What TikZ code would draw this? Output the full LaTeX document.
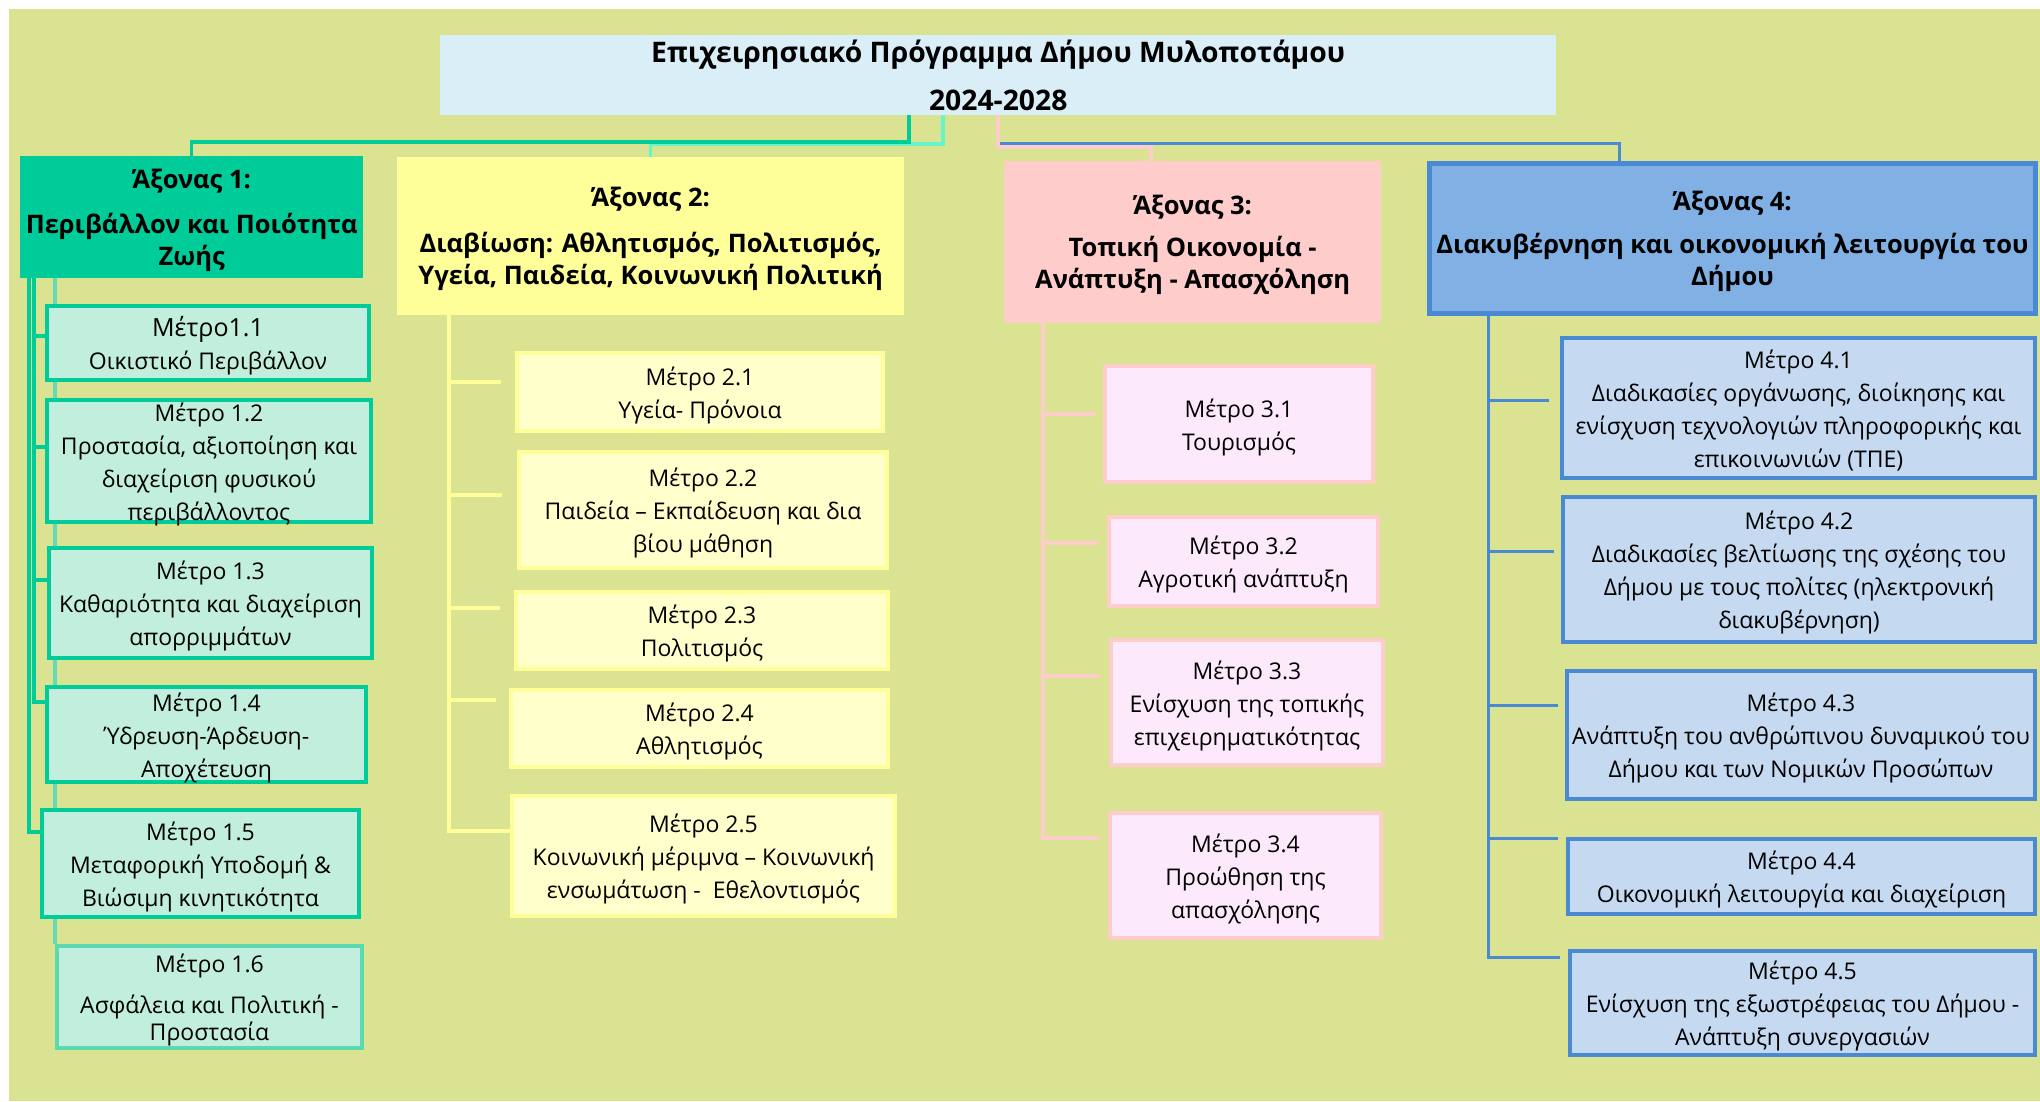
\documentclass[tikz,border=0pt]{standalone}
\usepackage{fontspec}
\setmainfont{Open Sans}
\pgfdeclarelayer{back}\pgfdeclarelayer{lines}
\pgfsetlayers{back,lines,main}
\definecolor{bgc}{HTML}{D9E392}
\definecolor{titleF}{HTML}{DAEEF8}
\definecolor{grnA}{HTML}{00CC99}
\definecolor{mintF}{HTML}{C1EEDD}
\definecolor{aquaT}{HTML}{66F5C8}
\definecolor{aquaL}{HTML}{66D9B8}
\definecolor{grnB}{HTML}{5CD9B0}
\definecolor{yelA}{HTML}{FFFF99}
\definecolor{yelF}{HTML}{FFFFCC}
\definecolor{pinkA}{HTML}{FFCCCC}
\definecolor{pinkF}{HTML}{FDE9FC}
\definecolor{blueA}{HTML}{80B0E4}
\definecolor{blueB}{HTML}{4A8AD4}
\definecolor{blueF}{HTML}{C5D9F1}
% name, box style, text style, x1, y1, x2, y2, text
\newcommand\bx[8]{%
  \pgfmathsetmacro\bw{#6-#4}\pgfmathsetmacro\bh{#7-#5}%
  \node[#2, anchor=north west, minimum width=\bw pt, minimum height=\bh pt, inner sep=0pt] (#1) at (#4,#5) {};
  \node[#3] (#1t) at ([yshift=-3pt]#1.center) {#8};}
\tikzset{
  mfont/.style={font=\fontsize{23}{33}\selectfont, align=center, inner sep=0pt, text=black},
  hfont/.style={font=\bfseries\fontsize{25.5}{32}\selectfont, align=center, inner sep=0pt, text=black},
  tfont/.style={font=\bfseries\fontsize{28.3}{48}\selectfont, align=center, inner sep=0pt, text=black, yshift=3pt},
  titlebox/.style={fill=titleF},
  ax1/.style={fill=grnA},
  ax2/.style={fill=yelA},
  ax3/.style={fill=pinkA},
  ax4/.style={fill=blueA, draw=blueB, line width=5pt},
  m1/.style={fill=mintF, draw=grnA, line width=4pt},
  m1b/.style={fill=mintF, draw=grnB, line width=4pt},
  m2/.style={fill=yelF, draw=yelA, line width=4pt},
  m3/.style={fill=pinkF, draw=pinkA, line width=4pt},
  m4/.style={fill=blueF, draw=blueB, line width=4pt},
  gl/.style={draw=grnA, line width=3.5pt},
  al/.style={draw=aquaT, line width=3.5pt},
  al2/.style={draw=aquaL, line width=3.5pt},
  yl/.style={draw=yelA, line width=3.5pt},
  pl/.style={draw=pinkA, line width=3.5pt},
  bl/.style={draw=blueB, line width=3pt},
}
\begin{document}
\begin{tikzpicture}[x=1pt,y=-1pt]
\begin{pgfonlayer}{back}
\fill[white] (0,0) rectangle (2040,1101);
\fill[bgc] (9,9) rectangle (2040,1101);
\end{pgfonlayer}
\useasboundingbox (0,0) rectangle (2040,1101);

\bx{title}{titlebox}{tfont}{440}{35}{1556}{115}{Επιχειρησιακό Πρόγραμμα Δήμου Μυλοποτάμου\\2024-2028}

\bx{a1}{ax1}{hfont}{20}{156}{363}{278}{Άξονας 1:\\[13pt]Περιβάλλον και Ποιότητα\\Ζωής}
\bx{a2}{ax2}{hfont}{397}{157}{904}{315}{Άξονας 2:\\[14pt]Διαβίωση: Αθλητισμός, Πολιτισμός,\\Υγεία, Παιδεία, Κοινωνική Πολιτική}
\bx{a3}{ax3}{hfont}{1004}{161}{1381}{323}{Άξονας 3:\\[10pt]Τοπική Οικονομία -\\Ανάπτυξη - Απασχόληση}
\bx{a4}{ax4}{hfont}{1427}{161}{2033}{311}{Άξονας 4:\\[11pt]Διακυβέρνηση και οικονομική λειτουργία του\\Δήμου}

\bx{b11}{m1}{mfont}{45}{304}{367}{378}{{\fontsize{25}{33}\selectfont Μέτρο1.1}\\Οικιστικό Περιβάλλον}
\bx{b12}{m1}{mfont}{45}{398}{369}{520}{Μέτρο 1.2\\Προστασία, αξιοποίηση και\\διαχείριση φυσικού\\περιβάλλοντος}
\bx{b13}{m1}{mfont}{47}{546}{370}{656}{Μέτρο 1.3\\Καθαριότητα και διαχείριση\\απορριμμάτων}
\bx{b14}{m1}{mfont}{45}{685}{364}{780}{Μέτρο 1.4\\Ύδρευση-Άρδευση-\\Αποχέτευση}
\bx{b15}{m1}{mfont}{40}{808}{357}{915}{Μέτρο 1.5\\Μεταφορική Υποδομή \&\\Βιώσιμη κινητικότητα}
\bx{b16}{m1b}{mfont}{55}{944}{360}{1046}{Μέτρο 1.6\\[8pt]Ασφάλεια και Πολιτική -\\[-6pt]Προστασία}

\bx{b21}{m2}{mfont}{515}{351}{881}{429}{Μέτρο 2.1\\Υγεία- Πρόνοια}
\bx{b22}{m2}{mfont}{517}{450}{885}{566}{Μέτρο 2.2\\Παιδεία – Εκπαίδευση και δια\\βίου μάθηση}
\bx{b23}{m2}{mfont}{514}{590}{886}{667}{Μέτρο 2.3\\Πολιτισμός}
\bx{b24}{m2}{mfont}{509}{688}{886}{765}{Μέτρο 2.4\\Αθλητισμός}
\bx{b25}{m2}{mfont}{510}{794}{893}{914}{Μέτρο 2.5\\Κοινωνική μέριμνα – Κοινωνική\\ενσωμάτωση -\ \ Εθελοντισμός}

\bx{b31}{m3}{mfont}{1103}{364}{1371}{480}{Μέτρο 3.1\\Τουρισμός}
\bx{b32}{m3}{mfont}{1107}{515}{1376}{604}{Μέτρο 3.2\\Αγροτική ανάπτυξη}
\bx{b33}{m3}{mfont}{1109}{638}{1381}{763}{Μέτρο 3.3\\Ενίσχυση της τοπικής\\επιχειρηματικότητας}
\bx{b34}{m3}{mfont}{1108}{811}{1379}{936}{Μέτρο 3.4\\Προώθηση της\\απασχόλησης}

\bx{b41}{m4}{mfont}{1560}{336}{2033}{476}{Μέτρο 4.1\\Διαδικασίες οργάνωσης, διοίκησης και\\ενίσχυση τεχνολογιών πληροφορικής και\\επικοινωνιών (ΤΠΕ)}
\bx{b42}{m4}{mfont}{1561}{495}{2033}{640}{Μέτρο 4.2\\Διαδικασίες βελτίωσης της σχέσης του\\Δήμου με τους πολίτες (ηλεκτρονική\\διακυβέρνηση)}
\bx{b43}{m4}{mfont}{1565}{669}{2033}{797}{Μέτρο 4.3\\Ανάπτυξη του ανθρώπινου δυναμικού του\\Δήμου και των Νομικών Προσώπων}
\bx{b44}{m4}{mfont}{1566}{837}{2033}{912}{Μέτρο 4.4\\Οικονομική λειτουργία και διαχείριση}
\bx{b45}{m4}{mfont}{1568}{949}{2033}{1053}{Μέτρο 4.5\\Ενίσχυση της εξωστρέφειας του Δήμου -\\Ανάπτυξη συνεργασιών}

\begin{pgfonlayer}{lines}
% title to axes
\draw[al] (title.south -| 943,0) -- (943,144) -| (a2.north);
\draw[gl] (title.south -| 909,0) -- (909,142) -| (a1.north);
\draw[bl] (title.south -| 998,0) -- (998,143) -| (a4.north -| 1619,0);
\draw[pl] (title.south -| 998,0) -- (998,147) -| (a3.north -| 1151,0);
% column 1
\draw[al2] (a1.south -| 55,0) -- (b16.north -| 55,0);
\draw[gl] (a1.south -| 29,0) |- (b15.west |- 0,832);
\draw[gl] (a1.south -| 34,0) |- (b14.west |- 0,702);
\draw[gl] (34,336) -- (b11.west |- 0,336);
\draw[gl] (34,447) -- (b12.west |- 0,447);
\draw[gl] (34,580) -- (b13.west |- 0,580);
% column 2
\draw[yl] (a2.south -| 449,0) |- (b25.west |- 0,831);
\draw[yl,shorten >=14pt] (449,382) -- (b21.west |- 0,382);
\draw[yl,shorten >=15pt] (449,495) -- (b22.west |- 0,495);
\draw[yl,shorten >=14pt] (449,608) -- (b23.west |- 0,608);
\draw[yl,shorten >=13pt] (449,700) -- (b24.west |- 0,700);
% column 3
\draw[pl,shorten >=8pt] (a3.south -| 1043,0) |- (b34.west |- 0,838);
\draw[pl,shorten >=8pt] (1043,414) -- (b31.west |- 0,414);
\draw[pl,shorten >=9pt] (1043,543) -- (b32.west |- 0,543);
\draw[pl,shorten >=9pt] (1043,676) -- (b33.west |- 0,676);
% column 4
\draw[bl,shorten >=8pt] (a4.south -| 1488,0) |- (b45.west |- 0,957);
\draw[bl,shorten >=11pt] (1488,400) -- (b41.west |- 0,400);
\draw[bl,shorten >=7pt] (1488,551) -- (b42.west |- 0,551);
\draw[bl,shorten >=7pt] (1488,705) -- (b43.west |- 0,705);
\draw[bl,shorten >=8pt] (1488,838) -- (b44.west |- 0,838);
\end{pgfonlayer}
\end{tikzpicture}
\end{document}
